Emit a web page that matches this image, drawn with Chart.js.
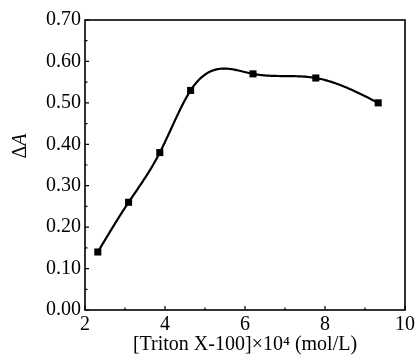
<!DOCTYPE html>
<html><head><meta charset="utf-8">
<script src="https://cdn.jsdelivr.net/npm/chart.js@4/dist/chart.umd.min.js"></script>
<style>html,body{margin:0;padding:0;background:#fff}#wrap{width:418px;height:355px}</style>
</head><body><div id="wrap"><canvas id="c" width="418" height="355"></canvas></div>
<script>
const concentrations = [2.32, 3.09, 3.87, 4.64, 6.2, 7.77, 9.33];
const deltaA = [0.14, 0.26, 0.38, 0.53, 0.57, 0.56, 0.50];
const xTicks = [2, 4, 6, 8, 10];
const yTicks = [0, 0.1, 0.2, 0.3, 0.4, 0.5, 0.6, 0.7];
const xTitle = '[Triton X-100]×10⁴ (mol/L)';

const FONT = '"Liberation Serif", "Times New Roman", serif';

// natural cubic spline second derivatives (for drawing the smooth line through the data)
function splineM(xs, ys) {
  const n = xs.length, h = [], a = [], b = [], c = [], d = [];
  for (let i = 0; i < n - 1; i++) h.push(xs[i + 1] - xs[i]);
  const M = new Array(n).fill(0);
  const m = n - 2;
  for (let i = 1; i <= m; i++) {
    a.push(h[i - 1]); b.push(2 * (h[i - 1] + h[i])); c.push(h[i]);
    d.push(6 * ((ys[i + 1] - ys[i]) / h[i] - (ys[i] - ys[i - 1]) / h[i - 1]));
  }
  for (let i = 1; i < m; i++) {
    const w = a[i] / b[i - 1];
    b[i] -= w * c[i - 1]; d[i] -= w * d[i - 1];
  }
  const sol = new Array(m);
  sol[m - 1] = d[m - 1] / b[m - 1];
  for (let i = m - 2; i >= 0; i--) sol[i] = (d[i] - c[i] * sol[i + 1]) / b[i];
  for (let i = 0; i < m; i++) M[i + 1] = sol[i];
  return {M, h};
}

const smoothLine = {
  id: 'smoothLine',
  beforeDatasetsDraw(chart) {
    const {ctx, scales, chartArea: a} = chart;
    const xs = concentrations, ys = deltaA;
    const {M, h} = splineM(xs, ys);
    ctx.save();
    ctx.beginPath();
    ctx.rect(a.left, a.top, a.right - a.left, a.bottom - a.top);
    ctx.clip();
    ctx.strokeStyle = '#000';
    ctx.lineWidth = 2.2;
    ctx.lineJoin = 'round';
    ctx.beginPath();
    let first = true;
    for (let i = 0; i < xs.length - 1; i++) {
      const steps = 60;
      for (let k = 0; k <= steps; k++) {
        const x = xs[i] + h[i] * k / steps;
        const A = xs[i + 1] - x, B = x - xs[i];
        const y = M[i] * A * A * A / (6 * h[i]) + M[i + 1] * B * B * B / (6 * h[i]) +
          (ys[i] / h[i] - M[i] * h[i] / 6) * A + (ys[i + 1] / h[i] - M[i + 1] * h[i] / 6) * B;
        const px = scales.x.getPixelForValue(x), py = scales.y.getPixelForValue(y);
        if (first) { ctx.moveTo(px, py); first = false; } else ctx.lineTo(px, py);
      }
    }
    ctx.stroke();
    ctx.restore();
  }
};

const frame = {
  id: 'frame',
  afterDraw(chart) {
    const {ctx, chartArea: a, scales} = chart;
    ctx.save();
    ctx.strokeStyle = '#000';
    ctx.lineWidth = 1.6;
    ctx.strokeRect(a.left, a.top, a.right - a.left, a.bottom - a.top);
    ctx.lineWidth = 1.2;
    ctx.beginPath();
    for (let v = 2; v <= 10.001; v += 1) {
      const px = scales.x.getPixelForValue(v);
      const len = (Math.round(v) % 2 === 0) ? 4 : 2.5;
      ctx.moveTo(px, a.bottom); ctx.lineTo(px, a.bottom - len);
    }
    for (let i = 0; i <= 14; i++) {
      const py = scales.y.getPixelForValue(i * 0.05);
      const len = (i % 2 === 0) ? 4 : 2.5;
      ctx.moveTo(a.left, py); ctx.lineTo(a.left + len, py);
    }
    ctx.stroke();
    // y title ΔA
    ctx.translate(21, 146);
    ctx.rotate(-Math.PI / 2);
    ctx.fillStyle = '#000';
    ctx.textBaseline = 'middle';
    ctx.font = '20px ' + FONT;
    const w1 = ctx.measureText('Δ').width;
    ctx.font = 'italic 20px ' + FONT;
    const w2 = ctx.measureText('A').width;
    const start = -(w1 + w2) / 2;
    ctx.font = '20px ' + FONT;
    ctx.textAlign = 'left';
    ctx.fillText('Δ', start, 0);
    ctx.font = 'italic 20px ' + FONT;
    ctx.fillText('A', start + w1, 0);
    ctx.restore();
  }
};

new Chart(document.getElementById('c'), {
  type: 'line',
  data: {
    datasets: [{
      data: concentrations.map((x, i) => ({x, y: deltaA[i]})),
      borderColor: '#000',
      backgroundColor: '#000',
      showLine: false,
      pointStyle: 'rect',
      pointRadius: 5,
      pointHoverRadius: 5,
      pointBorderWidth: 0
    }]
  },
  options: {
    responsive: false,
    animation: false,
    layout: {padding: {top: 20, right: 10, left: 0, bottom: 0}},
    plugins: {legend: {display: false}, tooltip: {enabled: false}},
    scales: {
      x: {
        type: 'linear', min: 2, max: 10,
        afterBuildTicks: s => { s.ticks = xTicks.map(v => ({value: v})); },
        afterFit: s => { s.height = 45; },
        grid: {display: false, drawTicks: false},
        border: {display: false},
        ticks: {color: '#000', padding: 3, maxRotation: 0, font: {family: FONT, size: 20}},
        title: {display: true, text: xTitle, color: '#000', padding: {top: 0, bottom: -1}, font: {family: FONT, size: 20, lineHeight: 1.1}}
      },
      y: {
        type: 'linear', min: 0, max: 0.7,
        afterBuildTicks: s => { s.ticks = yTicks.map(v => ({value: v})); },
        afterFit: s => { s.width = 85; },
        grid: {display: false, drawTicks: false},
        border: {display: false},
        ticks: {color: '#000', padding: 4, font: {family: FONT, size: 20}, callback: v => Number(v).toFixed(2)}
      }
    }
  },
  plugins: [smoothLine, frame]
});
</script></body></html>
